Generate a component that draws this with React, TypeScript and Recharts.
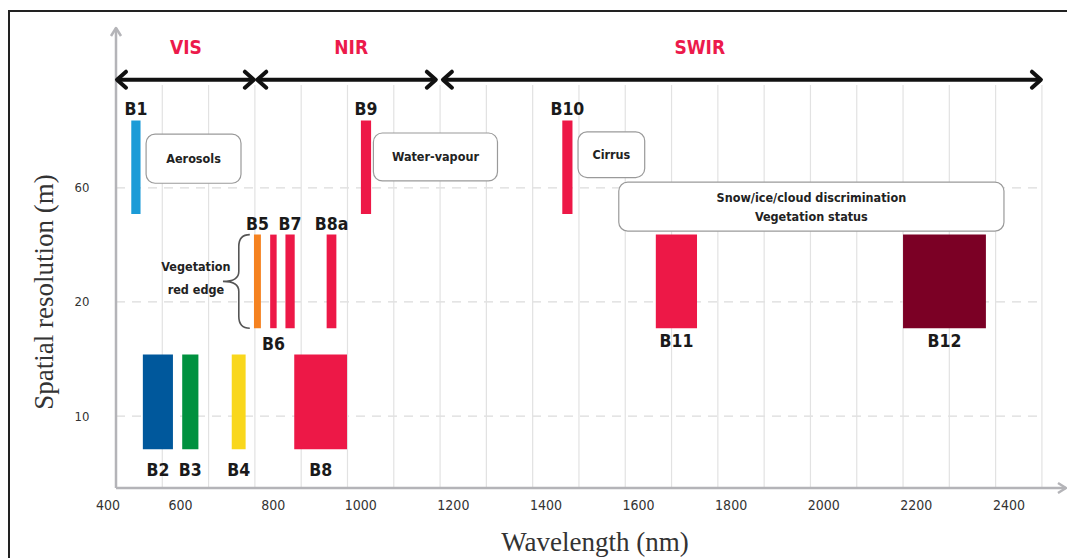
import { ComposedChart, XAxis, YAxis, Scatter, CartesianGrid, ReferenceArea, ReferenceLine, ReferenceDot } from "recharts"

const WAVE_TICKS = [400, 600, 800, 1000, 1200, 1400, 1600, 1800, 2000, 2200, 2400]
const GRID_WAVES = [500, 600, 700, 800, 900, 1000, 1100, 1200, 1300, 1400, 1500, 1600, 1700, 1800, 1900, 2000, 2100, 2200, 2300, 2400]
const RES_ROWS = [1, 2, 3]
const RES_LABELS = ["10", "20", "60"]

const BAND_NAMES = ["B1", "B2", "B3", "B4", "B5", "B6", "B7", "B8", "B8a", "B9", "B10", "B11", "B12"]
const BAND_FROM = [433, 458, 543, 650, 698, 733, 766, 785, 855, 929, 1364, 1566, 2100]
const BAND_TO = [453, 523, 578, 680, 713, 747, 786, 899, 876, 951, 1386, 1655, 2279]
const BAND_RES = ["60", "10", "10", "10", "20", "20", "20", "10", "20", "60", "60", "20", "20"]
const BAND_COLORS = ["#1b9bd7", "#00589c", "#00913f", "#f9d71c", "#f58220", "#ed1847", "#ed1847", "#ed1847", "#ed1847", "#ed1847", "#ed1847", "#ed1847", "#7b0025"]

// vertical extent of the bars of each resolution row (in row units)
const ROW_SPAN: Record<string, [number, number]> = {
  "10": [0.71, 1.54],
  "20": [1.77, 2.59],
  "60": [2.77, 3.59],
}

const REGION_NAMES = ["VIS", "NIR", "SWIR"]
const REGION_FROM = [400, 703, 1104]
const REGION_TO = [700, 1093, 2400]
const REGION_LABEL_AT = [551, 908, 1661]

const NOTE_TEXTS = [["Aerosols"], ["Water-vapour"], ["Cirrus"], ["Snow/ice/cloud discrimination", "Vegetation status"]]
const NOTE_X1 = [465, 956, 1398, 1486]
const NOTE_X2 = [670, 1224, 1542, 2318]
const NOTE_Y1 = [3.04, 3.06, 3.09, 2.62]
const NOTE_Y2 = [3.47, 3.48, 3.49, 3.05]

const LABEL_BELOW = new Set(["B2", "B3", "B4", "B6", "B8", "B11", "B12"])

const COND = "'DejaVu Sans Condensed', 'DejaVu Sans', sans-serif"
const SERIF = "'Liberation Serif', 'DejaVu Serif', serif"
const RED = "#ec1a4b"

const bands = BAND_NAMES.map((name, i) => ({
  name,
  from: BAND_FROM[i],
  to: BAND_TO[i],
  res: BAND_RES[i],
  color: BAND_COLORS[i],
  x: (BAND_FROM[i] + BAND_TO[i]) / 2,
  y: RES_ROWS[RES_LABELS.indexOf(BAND_RES[i])],
}))

function arrowShape(props: any) {
  const { x1, y1, x2, y2 } = props
  const y = y1
  const a = Math.min(x1, x2) + 1
  const b = Math.max(x1, x2) - 1
  return (
    <g fill="none" stroke="#111" strokeWidth={4} strokeLinecap="round" strokeLinejoin="round">
      <line x1={a + 2} y1={y} x2={b - 2} y2={y2} />
      <path d={`M${a + 9},${y - 8} L${a},${y} L${a + 9},${y + 8}`} />
      <path d={`M${b - 9},${y - 8} L${b},${y} L${b - 9},${y + 8}`} />
    </g>
  )
}

function axisShape(props: any) {
  const { x1, y1, x2, y2 } = props
  const vertical = Math.abs(x1 - x2) < 1
  const tx = vertical ? x1 : Math.max(x1, x2)
  const ty = vertical ? Math.min(y1, y2) : y1
  const head = vertical
    ? `M${tx - 5},${ty + 8} L${tx},${ty} L${tx + 5},${ty + 8}`
    : `M${tx - 8},${ty - 5} L${tx},${ty} L${tx - 8},${ty + 5}`
  return (
    <g fill="none" stroke="#b4b4b8" strokeWidth={2.5}>
      <line x1={x1} y1={y1} x2={x2} y2={y2} />
      <path d={head} strokeLinejoin="round" />
    </g>
  )
}

function noteShape(lines: string[]) {
  return (props: any) => {
    const { x, y, width, height } = props
    const cx = x + width / 2
    const cy = y + height / 2
    return (
      <g>
        <rect x={x} y={y} width={width} height={height} rx={9} fill="#fff" stroke="#9a9a9a" strokeWidth={1.2} />
        {lines.map((t, i) => (
          <text
            key={t}
            x={cx}
            y={cy + (lines.length === 1 ? 0 : i === 0 ? -9 : 10)}
            textAnchor="middle"
            dominantBaseline="central"
            fontFamily={COND}
            fontWeight="bold"
            fontSize={12.5}
            fill="#222"
          >
            {t}
          </text>
        ))}
      </g>
    )
  }
}

function braceShape(props: any) {
  const { x, y, width, height } = props
  const r = x + width
  const v = r - 11
  const m = y + height / 2
  return (
    <g>
      <path
        d={`M${r},${y} Q${v},${y} ${v},${y + 12} L${v},${m - 10} Q${v},${m} ${x},${m} Q${v},${m} ${v},${m + 10} L${v},${y + height - 12} Q${v},${y + height} ${r},${y + height}`}
        fill="none"
        stroke="#555"
        strokeWidth={1.6}
      />
      <text x={x - 27} y={m - 15} textAnchor="middle" dominantBaseline="central" fontFamily={COND} fontWeight="bold" fontSize={12.5} fill="#222">
        Vegetation
      </text>
      <text x={x - 27} y={m + 8} textAnchor="middle" dominantBaseline="central" fontFamily={COND} fontWeight="bold" fontSize={12.5} fill="#222">
        red edge
      </text>
    </g>
  )
}

function XTick(props: any) {
  const { x, y, payload } = props
  const dx = payload.value === 400 ? -8 : payload.value <= 800 ? -28 : -33
  return (
    <text x={x + dx} y={y + 17} textAnchor="middle" dominantBaseline="central" fontFamily={COND} fontSize={14} fill="#333">
      {payload.value}
    </text>
  )
}

function YTick(props: any) {
  const { x, y, payload } = props
  return (
    <text x={x - 34} y={y} textAnchor="middle" dominantBaseline="central" fontFamily={COND} fontSize={13} fill="#333">
      {RES_LABELS[payload.value - 1]}
    </text>
  )
}

// vertical grid lines stop just below the region arrows
function vGridLine(p: any) {
  return <line key={p.key} x1={p.x1} x2={p.x2} y1={85} y2={p.y2} stroke="#e2e2e2" strokeWidth={1.2} />
}

// dashed horizontal lines end at the 2400 nm grid line
function hGridLine(p: any) {
  return <line key={p.key} x1={p.x1} x2={1042} y1={p.y1} y2={p.y2} stroke="#dcdcdc" strokeWidth={1.3} strokeDasharray="9 7" />
}

export default function App() {
  return (
    <div style={{ position: "relative", width: 1067, height: 558, overflow: "hidden", background: "#fff" }}>
      <style>{"body{margin:0}"}</style>
      <div
        style={{
          position: "absolute",
          left: 8,
          top: 10,
          right: -10,
          bottom: -10,
          borderLeft: "2px solid #222",
          borderTop: "2px solid #222",
        }}
      />
      <ComposedChart width={1067} height={558} data={bands} margin={{ top: 28, right: 1, left: 56, bottom: 30 }}>
        <CartesianGrid
          verticalValues={GRID_WAVES}
          horizontalValues={RES_ROWS}
          vertical={vGridLine}
          horizontal={hGridLine}
        />
        <XAxis
          type="number"
          dataKey="x"
          domain={[400, 2452]}
          allowDataOverflow
          ticks={WAVE_TICKS}
          interval={0}
          axisLine={false}
          tickLine={false}
          tickSize={0}
          tickMargin={0}
          height={40}
          tick={<XTick />}
          label={{
            content: () => (
              <text x={595} y={542} textAnchor="middle" dominantBaseline="central" fontFamily={SERIF} fontSize={27} fill="#333">
                Wavelength (nm)
              </text>
            ),
          }}
        />
        <YAxis
          type="number"
          dataKey="y"
          domain={[0.37, 4.4]}
          allowDataOverflow
          ticks={RES_ROWS}
          interval={0}
          axisLine={false}
          tickLine={false}
          tickSize={0}
          tickMargin={0}
          width={60}
          tick={<YTick />}
          label={{
            content: () => (
              <text x={44} y={292} transform="rotate(-90 44 292)" textAnchor="middle" dominantBaseline="central" fontFamily={SERIF} fontSize={27} fill="#333">
                Spatial resolution (m)
              </text>
            ),
          }}
        />

        <ReferenceLine segment={[{ x: 400, y: 0.37 }, { x: 2452, y: 0.37 }]} ifOverflow="visible" shape={axisShape} />
        <ReferenceLine segment={[{ x: 400, y: 0.37 }, { x: 400, y: 4.4 }]} ifOverflow="visible" shape={axisShape} />

        {REGION_NAMES.map((n, i) => (
          <ReferenceLine
            key={n}
            segment={[{ x: REGION_FROM[i], y: 3.947 }, { x: REGION_TO[i], y: 3.947 }]}
            ifOverflow="visible"
            shape={arrowShape}
          />
        ))}
        {REGION_NAMES.map((n, i) => (
          <ReferenceDot
            key={`l${n}`}
            x={REGION_LABEL_AT[i]}
            y={4.23}
            ifOverflow="visible"
            shape={(p: any) => (
              <text x={p.cx} y={p.cy} textAnchor="middle" dominantBaseline="central" fontFamily={COND} fontWeight="bold" fontSize={19} fill={RED}>
                {n}
              </text>
            )}
          />
        ))}

        {NOTE_TEXTS.map((lines, i) => (
          <ReferenceArea
            key={lines[0]}
            x1={NOTE_X1[i]}
            x2={NOTE_X2[i]}
            y1={NOTE_Y1[i]}
            y2={NOTE_Y2[i]}
            ifOverflow="visible"
            shape={noteShape(lines)}
          />
        ))}
        <ReferenceArea x1={631} x2={689} y1={1.77} y2={2.59} ifOverflow="visible" shape={braceShape} />

        {bands.map((b) => {
          const [lo, hi] = ROW_SPAN[b.res]
          const below = LABEL_BELOW.has(b.name)
          const offset = below ? (b.res === "10" ? 14 : b.name === "B6" ? 9 : 6) : 5
          return (
            <ReferenceArea
              key={b.name}
              x1={b.from}
              x2={b.to}
              y1={lo}
              y2={hi}
              fill={b.color}
              fillOpacity={1}
              stroke="none"
              ifOverflow="visible"
              label={{
                value: b.name,
                position: below ? "bottom" : "top",
                offset,
                fontFamily: COND,
                fontWeight: "bold",
                fontSize: 17.5,
                fill: "#1a1a1a",
              }}
            />
          )
        })}
        <Scatter dataKey="y" isAnimationActive={false} shape={() => <g />} />
      </ComposedChart>
    </div>
  )
}
